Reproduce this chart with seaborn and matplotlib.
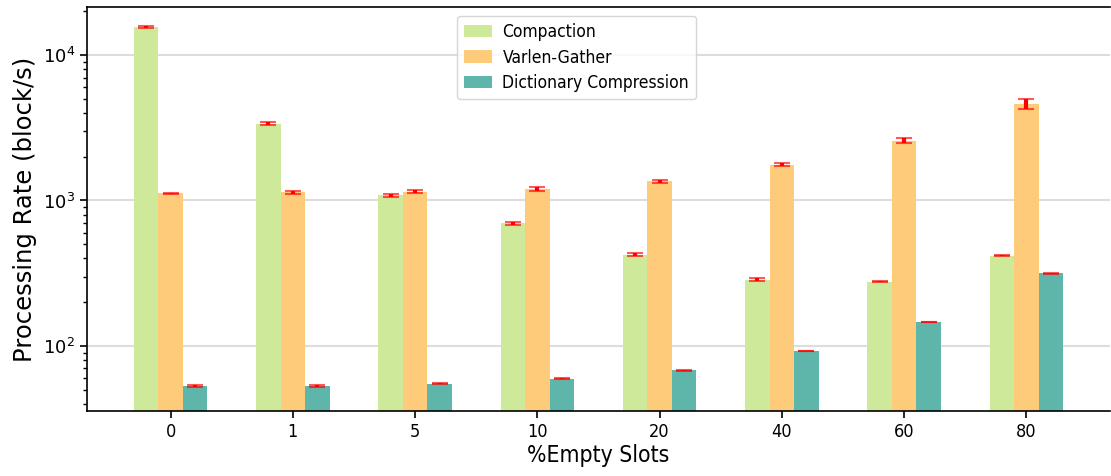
import matplotlib
matplotlib.use("Agg")
import matplotlib.pyplot as plt
import seaborn as sns
import pandas as pd
import numpy as np

categories = ["0", "1", "5", "10", "20", "40", "60", "80"]
series_names = ["Compaction", "Varlen-Gather", "Dictionary Compression"]
compaction = [15600, 3380, 1082, 698, 425, 286, 276, 417]
varlen = [1117, 1135, 1150, 1203, 1351, 1766, 2583, 4625]
dictionary = [53, 53, 54.8, 59.3, 68, 92.4, 146, 316]
compaction_err = [300, 60, 28, 15, 8, 6, 3, 3]
varlen_err = [15, 32, 25, 35, 22, 35, 110, 380]
dictionary_err = [0.6, 0.5, 0.5, 0.5, 0.5, 0.6, 0.8, 1.5]
colors = ["#cfe99b", "#fecb7a", "#5db6a9"]

values = [compaction, varlen, dictionary]
errors = [compaction_err, varlen_err, dictionary_err]
rows = []
for name, vals in zip(series_names, values):
    for c, v in zip(categories, vals):
        rows.append({"slots": c, "series": name, "rate": v})
df = pd.DataFrame(rows)

sns.set_style("white")
plt.rcParams['font.family'] = ['DejaVu Sans']
plt.rcParams['text.color'] = 'black'
plt.rcParams['axes.labelcolor'] = 'black'
plt.rcParams['xtick.color'] = 'black'
plt.rcParams['ytick.color'] = 'black'

fig = plt.figure(figsize=(11.11, 4.76), dpi=100)
ax = fig.add_axes([0.0783, 0.1366, 1023 / 1111, 404 / 476])
ax.set_yscale("log")
sns.barplot(data=df, x="slots", y="rate", hue="series", order=categories,
            hue_order=series_names, palette=colors, width=0.6,
            errorbar=None, saturation=1, ax=ax, zorder=2, linewidth=0)

for cont, errs in zip(ax.containers, errors):
    xs = [p.get_x() + p.get_width() / 2 for p in cont.patches]
    ys = [p.get_height() for p in cont.patches]
    eb = ax.errorbar(xs, ys, yerr=errs, fmt="none", ecolor="red",
                     elinewidth=3, capsize=5.5, capthick=1.5, zorder=3)
    for cap in eb[1]:
        cap.set_alpha(0.65)

ax.set_ylim(35.7, 21400)
ax.set_xlim(-0.684, 7.684)
ax.yaxis.grid(True, which="major", color="#dddddd", linewidth=1.5, zorder=0)
ax.set_axisbelow(True)
for s in ["left", "bottom", "top"]:
    ax.spines[s].set_color("black")
    ax.spines[s].set_linewidth(1.2)
ax.spines["right"].set_visible(False)

ax.tick_params(axis="both", which="major", labelsize=13, length=5, width=1.2,
               direction="out", left=True, bottom=True)
ax.tick_params(axis="y", which="minor", length=3, width=1, left=True)
for lab in ax.get_xticklabels():
    lab.set_fontstretch("condensed")
ax.set_xlabel("%Empty Slots", fontsize=16.5, labelpad=2, fontstretch="condensed")
ax.set_ylabel("Processing Rate (block/s)", fontsize=17.5)

handles, labels = ax.get_legend_handles_labels()
leg = ax.legend(handles, labels, loc="upper left", bbox_to_anchor=(0.362, 0.978),
                borderaxespad=0, frameon=True, handlelength=1.6,
                handletextpad=0.6, labelspacing=0.45,
                prop={"family": "DejaVu Sans", "size": 12.5, "stretch": "condensed"})

fig.savefig("out.png", dpi=100)
